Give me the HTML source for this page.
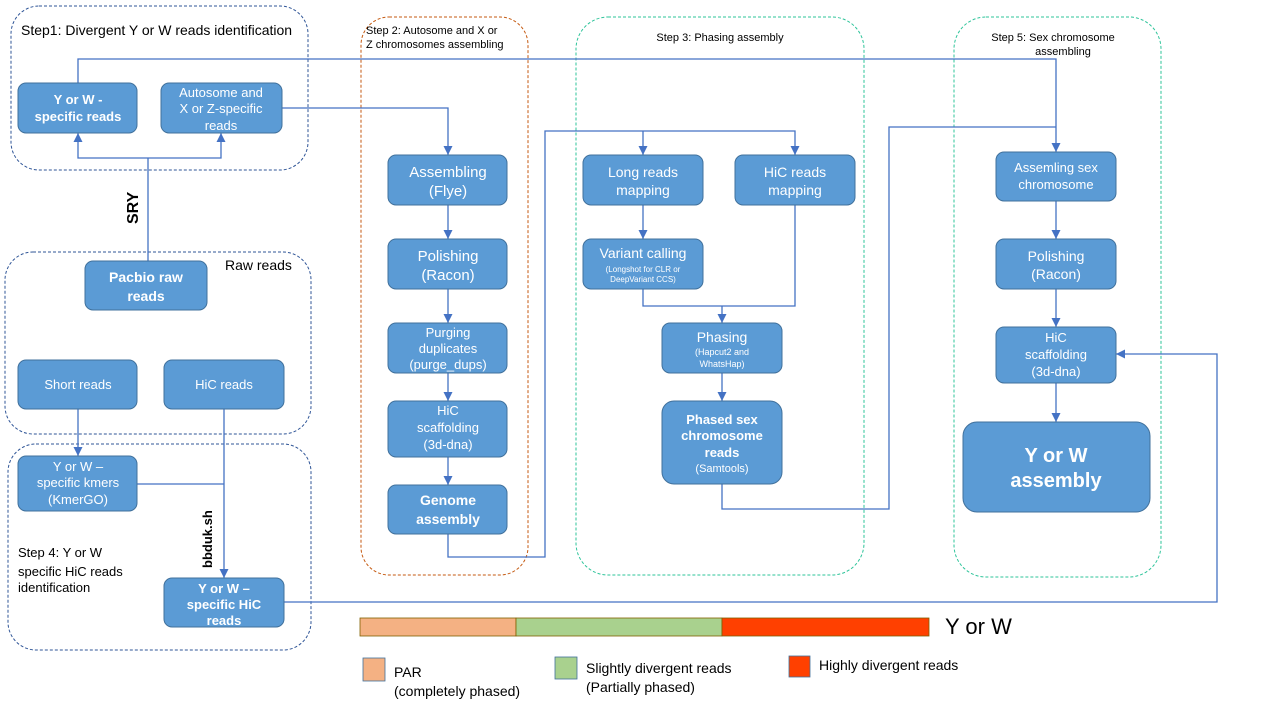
<!DOCTYPE html>
<html><head><meta charset="utf-8"><style>body{margin:0;background:#fff}svg{display:block;font-family:"Liberation Sans",sans-serif}</style></head><body>
<svg width="1280" height="720" viewBox="0 0 1280 720">
<defs><marker id="a" markerWidth="8" markerHeight="8" refX="4" refY="7" orient="auto" markerUnits="userSpaceOnUse"><path d="M0,0 L8,0 L4,8z" transform="rotate(0)" fill="#4472C4"/></marker>
<marker id="b" viewBox="0 0 10 10" refX="10" refY="5" markerWidth="9" markerHeight="9" orient="auto" markerUnits="userSpaceOnUse"><path d="M0,0 L10,5 L0,10z" fill="#4472C4"/></marker></defs>
<g fill="none" stroke-dasharray="3,2" stroke-width="1">
<rect x="11" y="6" width="297" height="164" rx="28" stroke="#2F5597"/>
<rect x="5" y="252" width="306" height="182" rx="28" stroke="#2F5597"/>
<rect x="8" y="444" width="303" height="206" rx="28" stroke="#2F5597"/>
<rect x="361" y="17" width="167" height="558" rx="28" stroke="#C55A11"/>
<rect x="576" y="17" width="288" height="558" rx="32" stroke="#2EC49A"/>
<rect x="954" y="17" width="207" height="560" rx="32" stroke="#2EC49A"/>
</g>
<g fill="none" stroke="#4472C4" stroke-width="1.3">
<path d="M78,83 V59 H1056 V152" marker-end="url(#b)"/>
<path d="M282,108 H448 V155" marker-end="url(#b)"/>
<path d="M148,261 V158"/>
<path d="M148,158 H78 V133" marker-end="url(#b)"/>
<path d="M148,158 H221 V133" marker-end="url(#b)"/>
<path d="M78,409 V456" marker-end="url(#b)"/>
<path d="M224,409 V578" marker-end="url(#b)"/>
<path d="M137,484 H224"/>
<path d="M448,205 V239" marker-end="url(#b)"/>
<path d="M448,289 V323" marker-end="url(#b)"/>
<path d="M448,373 V401" marker-end="url(#b)"/>
<path d="M448,457 V485" marker-end="url(#b)"/>
<path d="M448,534 V557 H545 V131 H795 V155" marker-end="url(#b)"/>
<path d="M643,131 V155" marker-end="url(#b)"/>
<path d="M643,205 V239" marker-end="url(#b)"/>
<path d="M643,289 V306 H795 V205"/>
<path d="M722,306 V323" marker-end="url(#b)"/>
<path d="M722,373 V401" marker-end="url(#b)"/>
<path d="M722,484 V509 H889 V127 H1056"/>
<path d="M1056,201 V239" marker-end="url(#b)"/>
<path d="M1056,289 V327" marker-end="url(#b)"/>
<path d="M1056,383 V422" marker-end="url(#b)"/>
<path d="M284,602 H1217 V354 H1116" marker-end="url(#b)"/>
</g>
<g fill="#5B9BD5" stroke="#41719C" stroke-width="1">
<rect x="18" y="83" width="119" height="50" rx="8"/>
<rect x="161" y="83" width="121" height="50" rx="8"/>
<rect x="85" y="261" width="122" height="49" rx="8"/>
<rect x="18" y="360" width="119" height="49" rx="8"/>
<rect x="164" y="360" width="120" height="49" rx="8"/>
<rect x="18" y="456" width="119" height="55" rx="8"/>
<rect x="164" y="578" width="120" height="49" rx="8"/>
<rect x="388" y="155" width="119" height="50" rx="8"/>
<rect x="388" y="239" width="119" height="50" rx="8"/>
<rect x="388" y="323" width="119" height="50" rx="8"/>
<rect x="388" y="401" width="119" height="56" rx="8"/>
<rect x="388" y="485" width="119" height="49" rx="8"/>
<rect x="583" y="155" width="120" height="50" rx="8"/>
<rect x="735" y="155" width="120" height="50" rx="8"/>
<rect x="583" y="239" width="120" height="50" rx="8"/>
<rect x="662" y="323" width="120" height="50" rx="8"/>
<rect x="662" y="401" width="120" height="83" rx="12"/>
<rect x="996" y="152" width="120" height="49" rx="8"/>
<rect x="996" y="239" width="120" height="50" rx="8"/>
<rect x="996" y="327" width="120" height="56" rx="8"/>
<rect x="963" y="422" width="187" height="90" rx="14"/>
</g>
<g fill="#fff" text-anchor="middle" font-size="13">
<text x="78" y="104" font-weight="bold">Y or W -</text><text x="78" y="121" font-weight="bold">specific reads</text>
<text x="221" y="97">Autosome and</text><text x="221" y="113">X or Z-specific</text><text x="221" y="130">reads</text>
<text x="146" y="282" font-weight="bold" font-size="14">Pacbio raw</text><text x="146" y="301" font-weight="bold" font-size="14">reads</text>
<text x="78" y="389">Short reads</text>
<text x="224" y="389">HiC reads</text>
<text x="78" y="471">Y or W –</text><text x="78" y="487">specific kmers</text><text x="78" y="504">(KmerGO)</text>
<text x="224" y="593" font-weight="bold">Y or W –</text><text x="224" y="609" font-weight="bold">specific HiC</text><text x="224" y="625" font-weight="bold">reads</text>
<text x="448" y="177" font-size="15">Assembling</text><text x="448" y="196" font-size="15">(Flye)</text>
<text x="448" y="261" font-size="15">Polishing</text><text x="448" y="280" font-size="15">(Racon)</text>
<text x="448" y="337">Purging</text><text x="448" y="353">duplicates</text><text x="448" y="369">(purge_dups)</text>
<text x="448" y="415">HiC</text><text x="448" y="432">scaffolding</text><text x="448" y="449">(3d-dna)</text>
<text x="448" y="505" font-weight="bold" font-size="14">Genome</text><text x="448" y="524" font-weight="bold" font-size="14">assembly</text>
<text x="643" y="177" font-size="14">Long reads</text><text x="643" y="195" font-size="14">mapping</text>
<text x="795" y="177" font-size="14">HiC reads</text><text x="795" y="195" font-size="14">mapping</text>
<text x="643" y="258" font-size="14">Variant calling</text><text x="643" y="272" font-size="8">(Longshot for CLR or</text><text x="643" y="282" font-size="8">DeepVariant CCS)</text>
<text x="722" y="342" font-size="14">Phasing</text><text x="722" y="355" font-size="9">(Hapcut2 and</text><text x="722" y="367" font-size="9">WhatsHap)</text>
<text x="722" y="424" font-weight="bold">Phased sex</text><text x="722" y="440" font-weight="bold">chromosome</text><text x="722" y="457" font-weight="bold">reads</text><text x="722" y="472" font-size="11">(Samtools)</text>
<text x="1056" y="172">Assemling sex</text><text x="1056" y="189">chromosome</text>
<text x="1056" y="261" font-size="14">Polishing</text><text x="1056" y="279" font-size="14">(Racon)</text>
<text x="1056" y="342">HiC</text><text x="1056" y="359">scaffolding</text><text x="1056" y="376">(3d-dna)</text>
<text x="1056" y="462" font-weight="bold" font-size="20">Y or W</text><text x="1056" y="487" font-weight="bold" font-size="20">assembly</text>
</g>
<g fill="#000" font-size="13">
<text x="21" y="35" font-size="14">Step1: Divergent Y or W reads identification</text>
<text x="366" y="34" font-size="11">Step 2: Autosome and X or</text><text x="366" y="48" font-size="11">Z chromosomes assembling</text>
<text x="720" y="41" font-size="11" text-anchor="middle">Step 3: Phasing assembly</text>
<text x="1053" y="41" font-size="11" text-anchor="middle">Step 5: Sex chromosome</text><text x="1063" y="55" font-size="11" text-anchor="middle">assembling</text>
<text x="225" y="270" font-size="14">Raw reads</text>
<text x="18" y="557">Step 4: Y or W</text><text x="18" y="576">specific HiC reads</text><text x="18" y="592">identification</text>
<text transform="translate(138,224) rotate(-90)" font-weight="bold" font-size="16">SRY</text>
<text transform="translate(212,568) rotate(-90)" font-weight="bold" font-size="13">bbduk.sh</text>
<text x="945" y="634" font-size="22">Y or W</text>
<text x="394" y="677" font-size="14">PAR</text><text x="394" y="696" font-size="14">(completely phased)</text>
<text x="586" y="673" font-size="14">Slightly divergent reads</text><text x="586" y="692" font-size="14">(Partially phased)</text>
<text x="819" y="670" font-size="14">Highly divergent reads</text>
</g>
<g stroke="#7F6000" stroke-width="0.8">
<rect x="360" y="618" width="156" height="18" fill="#F4B183"/>
<rect x="516" y="618" width="206" height="18" fill="#A9D18E"/>
<rect x="722" y="618" width="207" height="18" fill="#FF4000"/>
</g>
<g stroke="#41719C" stroke-width="0.8">
<rect x="363" y="658" width="22" height="23" fill="#F4B183"/>
<rect x="555" y="657" width="22" height="22" fill="#A9D18E"/>
<rect x="789" y="656" width="21" height="21" fill="#FF4000"/>
</g>
</svg>
</body></html>
